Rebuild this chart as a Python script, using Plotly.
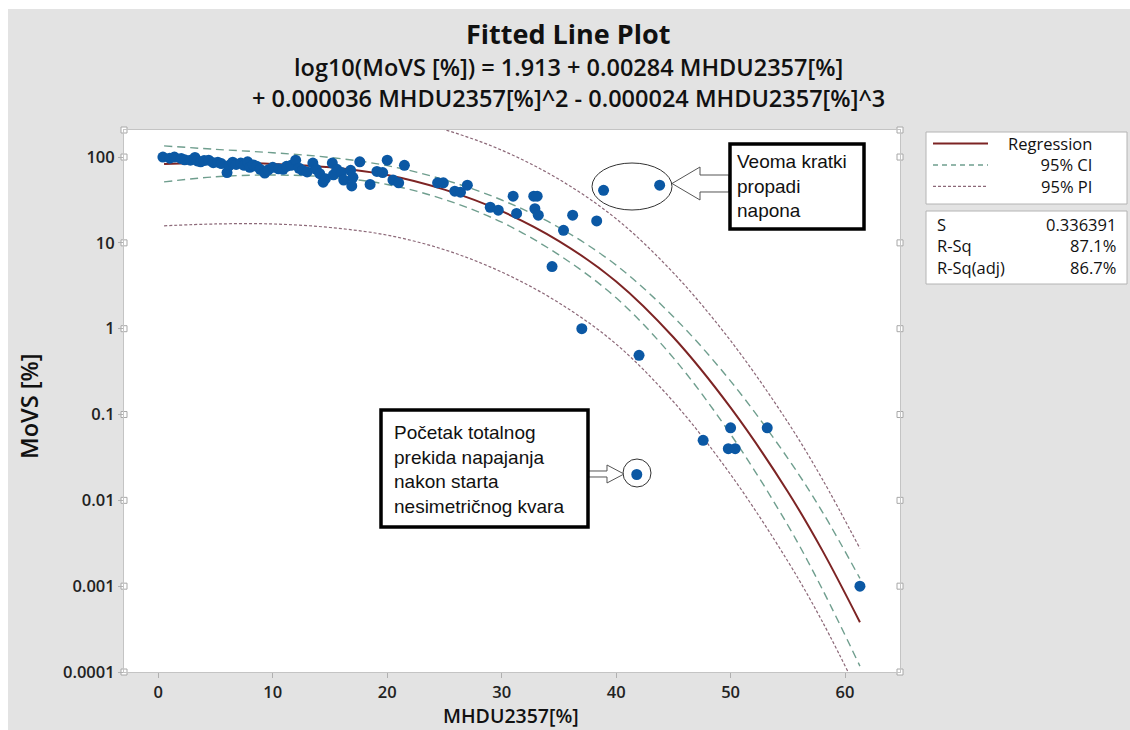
import plotly.graph_objects as go

# ---------------- data ----------------
mhdu = [0.4, 1.0, 1.4, 2.0, 2.3, 2.8, 3.2, 3.4, 3.7, 4.0, 4.4, 4.8, 5.2, 5.5, 6.0, 6.2, 6.5, 6.8,
        7.2, 7.5, 7.8, 8.0, 8.3, 8.6, 8.9, 9.3, 9.6, 10.0, 10.5, 10.9, 11.2, 11.6, 12.0, 12.3,
        12.6, 13.0, 13.5, 13.8, 14.1, 14.4, 14.6, 15.2, 15.3, 15.6, 16.0, 16.2, 16.8, 16.9,
        17.0, 17.6, 18.5, 19.1, 19.6, 20.0, 20.5, 21.0, 21.5, 24.4, 24.9, 25.9, 26.4, 27.0,
        29.0, 29.7, 31.0, 31.3, 32.8, 33.1, 32.9, 33.2, 34.4, 35.4, 36.2, 37.0, 38.3, 38.9,
        41.8, 42.0, 43.8, 47.6, 49.8, 50.0, 50.4, 53.2, 61.3]
movs = [100, 97, 100, 96, 93, 92, 99, 90, 88, 91, 92, 86, 87, 84, 66, 80, 87, 82,
        85, 80, 88, 76, 81, 78, 72, 65, 71, 76, 73, 72, 78, 80, 92, 74,
        70, 67, 85, 72, 64, 51, 56, 85, 62, 72, 66, 54, 70, 46,
        58, 88, 48, 68, 66, 92, 54, 50, 80, 50, 50, 40, 39, 47,
        26, 24, 35, 22, 35, 35, 25, 21, 5.3, 14, 21, 1.0, 18, 41,
        0.02, 0.49, 47, 0.05, 0.04, 0.07, 0.04, 0.07, 0.001]

fit_x = [0.5, 5, 10, 15, 20, 25, 30, 35, 40, 45, 50, 55, 58, 61.3]
fit_y = [83.2, 85.1, 83.2, 75.9, 61.7, 41.7, 23.4, 10.5, 3.55, 0.794, 0.120, 0.0126, 0.00263, 0.00038]
ci_upper = [134.9, 123.0, 112.2, 98.9, 79.4, 54.3, 31.6, 15.1, 5.50, 1.38, 0.245, 0.0309, 0.00741, 0.00123]
ci_lower = [51.3, 58.9, 61.7, 58.2, 47.9, 32.0, 17.4, 7.24, 2.29, 0.457, 0.0589, 0.00513, 0.00093, 0.000117]
pi_upper = [436.5, 436.5, 416.9, 380.2, 309.0, 208.9, 120.2, 55.0, 19.1, 4.47, 0.724, 0.0813, 0.0178, 0.00275]
pi_lower = [15.8, 16.6, 16.6, 15.1, 12.3, 8.32, 4.57, 2.0, 0.661, 0.141, 0.020, 0.00195, 0.00039, 0.0000525]

x_ticks = [0, 10, 20, 30, 40, 50, 60]
y_ticks = [0.0001, 0.001, 0.01, 0.1, 1, 10, 100]
y_tick_text = ["0.0001", "0.001", "0.01", "0.1", "1", "10", "100"]

title = "Fitted Line Plot"
eq_line1 = "log10(MoVS [%]) = 1.913 + 0.00284 MHDU2357[%]"
eq_line2 = "+ 0.000036 MHDU2357[%]^2 - 0.000024 MHDU2357[%]^3"
legend_labels = ["Regression", "95% CI", "95% PI"]
stat_names = ["S", "R-Sq", "R-Sq(adj)"]
stat_values = ["0.336391", "87.1%", "86.7%"]
callout1 = ["Veoma kratki", "propadi", "napona"]
callout2 = ["Početak totalnog", "prekida napajanja", "nakon starta", "nesimetričnog kvara"]

# ---------------- layout geometry ----------------
W, H = 1130, 730
L, R, T, B = 124, 900, 130, 672   # plot area in pixels
X_RANGE = [-3.0, 64.8]
Y_RANGE = [-4.0, 2.315]


def px(xp):
    return (xp - L) / (R - L)


def py(yp):
    return (B - yp) / (B - T)


BLUE = "#0b58a4"
RED = "#7d2424"
CI_COL = "#6f9e8e"
PI_COL = "#8c6878"
AX_COL = "#c4c4c4"
BG = "#e3e3e3"
FONT = "Open Sans"

fig = go.Figure()

# bands and regression
fig.add_trace(go.Scatter(x=fit_x, y=pi_upper, mode="lines", line=dict(color=PI_COL, width=1.2, dash="3px,2px", shape="spline"), showlegend=False, hoverinfo="skip"))
fig.add_trace(go.Scatter(x=fit_x, y=pi_lower, mode="lines", line=dict(color=PI_COL, width=1.2, dash="3px,2px", shape="spline"), showlegend=False, hoverinfo="skip"))
fig.add_trace(go.Scatter(x=fit_x, y=ci_upper, mode="lines", line=dict(color=CI_COL, width=1.4, dash="8px,5px", shape="spline"), showlegend=False, hoverinfo="skip"))
fig.add_trace(go.Scatter(x=fit_x, y=ci_lower, mode="lines", line=dict(color=CI_COL, width=1.4, dash="8px,5px", shape="spline"), showlegend=False, hoverinfo="skip"))
fig.add_trace(go.Scatter(x=fit_x, y=fit_y, mode="lines", line=dict(color=RED, width=2, shape="spline"), showlegend=False, hoverinfo="skip"))

# data points
fig.add_trace(go.Scatter(x=mhdu, y=movs, mode="markers",
                         marker=dict(color=BLUE, size=11, line=dict(width=0)),
                         showlegend=False))

# decorative little squares on the frame (Minitab style)
sq_y = y_ticks + [10 ** Y_RANGE[1]]
fig.add_trace(go.Scatter(x=[X_RANGE[0]] * len(sq_y) + [X_RANGE[1]] * len(sq_y),
                         y=sq_y + sq_y, mode="markers", cliponaxis=False,
                         marker=dict(symbol="square", size=6, color="white", line=dict(color="#a8a8a8", width=1)),
                         showlegend=False, hoverinfo="skip"))

shapes = []
# white strips along the top and left edges of the picture
shapes.append(dict(type="rect", xref="paper", yref="paper", x0=px(0), x1=px(W), y0=py(9), y1=py(0),
                   fillcolor="white", line=dict(width=0), layer="below"))
shapes.append(dict(type="rect", xref="paper", yref="paper", x0=px(0), x1=px(8), y0=py(H), y1=py(0),
                   fillcolor="white", line=dict(width=0), layer="below"))

# callout 1: ellipse, arrow, box
shapes.append(dict(type="circle", xref="paper", yref="paper", x0=px(592), x1=px(672), y0=py(210), y1=py(163),
                   line=dict(color="#333333", width=1)))
arrow1 = [(729, 175), (700, 175), (700, 167), (672, 183.5), (700, 200), (700, 192), (729, 192)]
shapes.append(dict(type="path", xref="paper", yref="paper",
                   path="M " + " L ".join(f"{px(a):.5f},{py(b):.5f}" for a, b in arrow1) + " Z",
                   fillcolor="white", line=dict(color="#555555", width=1)))
shapes.append(dict(type="rect", xref="paper", yref="paper", x0=px(730), x1=px(864), y0=py(229), y1=py(144),
                   fillcolor="white", line=dict(color="black", width=3.5)))

# callout 2: circle, arrow, box
shapes.append(dict(type="circle", xref="paper", yref="paper", x0=px(623), x1=px(651), y0=py(487), y1=py(459),
                   line=dict(color="#333333", width=1)))
arrow2 = [(588, 471), (607, 471), (607, 465), (624, 474), (607, 483), (607, 477), (588, 477)]
shapes.append(dict(type="path", xref="paper", yref="paper",
                   path="M " + " L ".join(f"{px(a):.5f},{py(b):.5f}" for a, b in arrow2) + " Z",
                   fillcolor="white", line=dict(color="#555555", width=1)))
shapes.append(dict(type="rect", xref="paper", yref="paper", x0=px(381), x1=px(588), y0=py(527), y1=py(410),
                   fillcolor="white", line=dict(color="black", width=3.5)))

# legend box & stats box
shapes.append(dict(type="rect", xref="paper", yref="paper", x0=px(926), x1=px(1127), y0=py(204), y1=py(132),
                   fillcolor="white", line=dict(color="#b4b4b4", width=1)))
shapes.append(dict(type="rect", xref="paper", yref="paper", x0=px(926), x1=px(1127), y0=py(284), y1=py(211),
                   fillcolor="white", line=dict(color="#b4b4b4", width=1)))
LEG_SIZE = 16.5
leg_step = LEG_SIZE * 1.3
leg_mid = 165
leg_y = [leg_mid - leg_step, leg_mid, leg_mid + leg_step]
leg_styles = [dict(color=RED, width=2), dict(color=CI_COL, width=1.4, dash="5px,4px"),
              dict(color=PI_COL, width=1.2, dash="3px,2px")]
for yy, st in zip(leg_y, leg_styles):
    shapes.append(dict(type="line", xref="paper", yref="paper", x0=px(933), x1=px(988), y0=py(yy), y1=py(yy), line=st))

annotations = []
annotations.append(dict(text=f"<b>{title}</b>", x=px(568), y=py(33), xref="paper", yref="paper",
                        showarrow=False, xanchor="center", yanchor="middle",
                        font=dict(family=FONT, size=27, color="#111111")))
annotations.append(dict(text=eq_line1 + "<br>" + eq_line2, x=px(568), y=py(83), xref="paper", yref="paper",
                        showarrow=False, xanchor="center", yanchor="middle", align="center",
                        font=dict(family=FONT, size=23.5, color="#111111", weight=600)))
annotations.append(dict(text="MHDU2357[%]", x=px(511), y=py(731), xref="paper", yref="paper",
                        showarrow=False, xanchor="center", yanchor="bottom",
                        font=dict(family=FONT, size=19.5, color="#111111", weight=600)))
annotations.append(dict(text="MoVS [%]", x=px(29), y=py(407), xref="paper", yref="paper", textangle=-90,
                        showarrow=False, xanchor="center", yanchor="middle",
                        font=dict(family=FONT, size=23.5, color="#111111", weight=600)))
annotations.append(dict(text="<br>".join(legend_labels), x=px(1094), y=py(leg_mid), xref="paper", yref="paper",
                        showarrow=False, xanchor="right", yanchor="middle", align="right",
                        font=dict(family=FONT, size=LEG_SIZE, color="#111111")))
stat_mid = 246
annotations.append(dict(text="<br>".join(stat_names), x=px(935), y=py(stat_mid), xref="paper", yref="paper",
                        showarrow=False, xanchor="left", yanchor="middle", align="left",
                        font=dict(family=FONT, size=LEG_SIZE, color="#111111")))
annotations.append(dict(text="<br>".join(stat_values), x=px(1118), y=py(stat_mid), xref="paper", yref="paper",
                        showarrow=False, xanchor="right", yanchor="middle", align="right",
                        font=dict(family=FONT, size=LEG_SIZE, color="#111111")))
annotations.append(dict(text="<br>".join(callout1), x=px(735), y=py(186), xref="paper", yref="paper",
                        showarrow=False, xanchor="left", yanchor="middle", align="left",
                        font=dict(family="Liberation Sans", size=19, color="#111111")))
annotations.append(dict(text="<br>".join(callout2), x=px(392), y=py(470), xref="paper", yref="paper",
                        showarrow=False, xanchor="left", yanchor="middle", align="left",
                        font=dict(family="Liberation Sans", size=19, color="#111111")))

tick_font = dict(family=FONT, size=16.5, color="#222222", weight=600)
fig.update_layout(
    width=W, height=H, autosize=False,
    margin=dict(l=L, r=W - R, t=T, b=H - B, pad=0),
    paper_bgcolor=BG, plot_bgcolor="white",
    showlegend=False,
    shapes=shapes, annotations=annotations,
    xaxis=dict(range=X_RANGE, tickvals=x_ticks, ticks="outside", ticklen=5, tickcolor="#b0b0b0",
               showline=True, linecolor=AX_COL, linewidth=1, mirror=True, showgrid=False, zeroline=False,
               tickfont=tick_font),
    yaxis=dict(type="log", range=Y_RANGE, tickvals=y_ticks, ticktext=y_tick_text, ticks="outside",
               ticklen=5, tickcolor="#b0b0b0", showline=True, linecolor=AX_COL, linewidth=1, mirror=True,
               showgrid=False, zeroline=False, tickfont=tick_font),
)

fig.write_html("out.html")
